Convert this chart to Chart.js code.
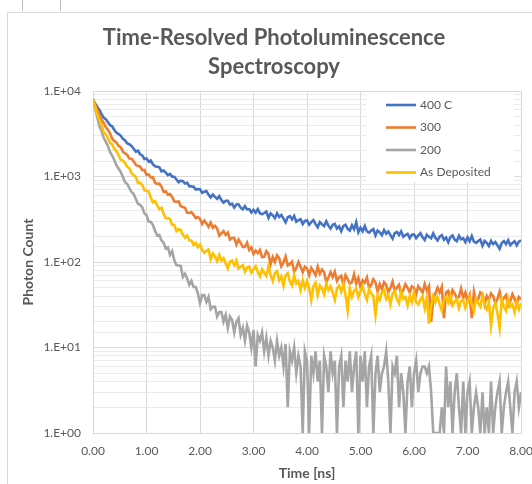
<!DOCTYPE html>
<html>
<head>
<meta charset="utf-8">
<script src="https://cdn.jsdelivr.net/npm/chart.js@4.4.1/dist/chart.umd.min.js"></script>
<style>
  html, body { margin: 0; padding: 0; background: #fff; }
  #wrap { width: 532px; height: 484px; }
</style>
</head>
<body>
<div id="wrap"><canvas id="trplChart" width="532" height="484"></canvas></div>
<script>
// ===== Data: photon counts, one sample every 0.04 ns =====
const T_STEP = 0.04;
const seriesNames = ['400 C', '300', '200', 'As Deposited'];
const seriesColors = ['#4472C4', '#ED7D31', '#A5A5A5', '#FFC000'];
const yTickValues = [1, 10, 100, 1000, 10000];
const yTickLabels = ['1.E+00', '1.E+01', '1.E+02', '1.E+03', '1.E+04'];
const chartTitle = ['Time-Resolved Photoluminescence', 'Spectroscopy'];

const counts400C = [
  8000,7092,6520,6006,5368,4846,4674,4310,3985,3842,
  3490,3246,3141,2993,2752,2639,2434,2385,2282,2112,
  1955,2001,1819,1765,1603,1623,1495,1540,1386,1315,
  1302,1283,1150,1176,1112,1039,1073,996,993,921,
  859,893,884,828,844,768,767,761,703,714,
  711,644,663,675,613,570,614,578,548,589,
  530,495,520,521,469,480,433,470,473,432,
  413,451,412,416,379,408,378,415,372,361,
  374,389,328,370,352,325,371,337,355,321,
  291,334,344,315,345,296,309,317,278,302,
  307,273,293,309,277,255,293,276,263,299,
  266,246,272,279,246,261,229,264,273,244,
  233,269,242,292,223,252,229,264,228,220,
  233,243,205,233,222,206,236,214,227,206,
  188,218,225,207,228,197,207,214,190,208,
  210,190,205,217,195,181,208,197,189,216,
  192,179,198,206,182,193,170,196,204,183,
  175,203,184,190,171,194,175,201,173,167,
  176,183,155,176,167,154,177,162,171,157,
  143,167,175,162,180,157,167,175,157,173,179
];
const counts300 = [
  8000,6783,6072,5250,4566,4246,3756,3512,3168,2767,
  2589,2486,2277,2186,1954,1862,1784,1623,1613,1503,
  1372,1325,1310,1188,1194,1047,1057,976,982,845,
  819,825,763,660,672,611,622,576,511,505,
  514,449,439,431,377,374,384,356,326,336,
  320,279,306,283,258,289,251,264,247,203,
  216,230,208,221,183,191,192,160,183,167,
  150,150,168,138,148,124,136,127,138,114,
  115,134,124,94,114,100,120,111,89,99,
  116,91,95,101,77,85,100,88,76,88,
  84,70,85,78,70,88,73,82,76,58,
  66,76,67,77,60,66,69,54,70,63,
  56,58,72,56,65,51,61,57,66,50,
  54,63,58,45,55,48,58,54,44,50,
  59,46,50,54,42,47,55,50,44,52,
  50,42,52,48,44,55,46,52,20,37,
  43,50,44,51,22,44,46,36,47,43,
  38,39,49,38,44,35,41,22,45,35,
  37,44,42,32,40,36,43,40,33,37,
  45,35,38,41,31,35,42,37,32,39,37
];
const counts200 = [
  8000,6250,4947,3884,3392,2834,2538,2264,1925,1745,
  1550,1345,1234,1126,978,858,817,731,658,625,
  547,479,466,437,371,353,297,294,272,231,
  204,207,179,168,144,148,121,134,104,92,
  91,90,67,73,64,54,60,51,51,43,
  33,41,41,34,39,28,30,30,23,26,
  26,20,24,17,23,21,15,20,22,14,
  17,12,18,15,10,16,6,14,12,15,
  9,13,8,12,10,7,12,8,10,6,
  11,2,9,7,10,5,8,6,1,9,
  7,1,8,5,9,4,7,1,8,6,
  3,9,5,7,1,6,8,2,7,4,
  9,3,6,9,1,8,4,9,2,6,
  8,1,5,8,3,5,6,9,4,1,
  6,5,8,2,5,3,1,4,6,2,
  5,7,3,5,6,6,5,6,3,1,
  1,1,1,2,1,6,2,4,1,3,
  5,2,1,4,1,3,4,1,2,3,
  2,1,3,1,2,1,4,1,2,3,
  4,1,2,3,4,2,1,3,4,2,3
];
const countsAsDep = [
  8000,6534,5341,4623,4049,3262,3119,2793,2476,2377,
  2089,1975,1759,1573,1535,1437,1294,1248,1097,1037,
  991,842,843,801,689,683,664,567,498,516,
  459,414,430,366,324,327,317,272,269,230,
  242,236,208,192,204,180,179,158,167,149,
  160,138,128,135,140,108,126,116,102,121,
  104,111,96,84,101,104,92,104,84,88,
  92,77,86,88,75,82,89,76,68,82,
  75,69,89,70,60,74,78,61,68,53,
  70,74,59,53,70,56,60,47,61,50,
  60,50,36,52,57,41,53,49,42,56,
  47,52,44,36,49,53,45,55,41,27,
  49,39,46,49,39,46,52,42,36,48,
  43,40,24,41,36,44,47,37,41,32,
  43,46,37,33,45,37,39,31,40,34,
  44,34,32,36,40,29,38,19,31,40,
  34,39,32,27,36,39,34,41,31,34,
  37,29,35,36,29,34,39,32,27,37,
  33,30,40,32,28,34,18,29,33,25,
  17,37,30,27,37,30,32,26,34,28,33
];

const FONT = 'Lato, "Open Sans", sans-serif';
const TEXT = '#595959';

function toPoints(arr) {
  return arr.map((v, i) => ({ x: i * T_STEP, y: v }));
}

const allCounts = [counts400C, counts300, counts200, countsAsDep];
// Excel paints the last series on top -> give it the lowest order
const datasets = allCounts.map((arr, i) => ({
  label: seriesNames[i],
  data: toPoints(arr),
  borderColor: seriesColors[i],
  backgroundColor: seriesColors[i],
  borderWidth: 2.6,
  pointRadius: 0,
  tension: 0,
  order: allCounts.length - i
}));

// ===== Sheet frame, title and legend box (Excel look) =====
const excelDecor = {
  id: 'excelDecor',
  beforeDraw(chart) {
    const c = chart.ctx;
    c.save();
    c.fillStyle = '#fff';
    c.fillRect(0, 0, chart.width, chart.height);
    c.strokeStyle = '#d9d9d9';
    c.lineWidth = 1;
    c.beginPath();
    c.moveTo(7.5, chart.height); c.lineTo(7.5, 12.5); c.lineTo(chart.width, 12.5);
    c.stroke();
    c.strokeStyle = '#bfbfbf';
    c.beginPath();
    c.moveTo(22.5, 0); c.lineTo(22.5, 11);
    c.moveTo(60.5, 0); c.lineTo(60.5, 11);
    c.stroke();
    c.fillStyle = TEXT;
    c.font = 'bold 22px ' + FONT;
    c.textAlign = 'center';
    c.textBaseline = 'middle';
    chartTitle.forEach((t, i) => c.fillText(t, 274, 38 + i * 29));
    c.restore();
  },
  afterDatasetsDraw(chart) {
    const c = chart.ctx;
    c.save();
    c.fillStyle = '#fff';
    c.fillRect(366, 92, 148, 90);
    c.font = '12px ' + FONT;
    c.textAlign = 'left';
    c.textBaseline = 'middle';
    seriesNames.forEach((name, i) => {
      const y = 105 + i * 22.5;
      c.strokeStyle = seriesColors[i];
      c.lineWidth = 2.6;
      c.beginPath();
      c.moveTo(386, y); c.lineTo(416, y);
      c.stroke();
      c.fillStyle = TEXT;
      c.fillText(name, 420, y);
    });
    c.restore();
  }
};

const ctx = document.getElementById('trplChart').getContext('2d');
new Chart(ctx, {
  type: 'line',
  data: { datasets },
  options: {
    responsive: false,
    animation: false,
    layout: { padding: { left: 16, right: 11, top: 91, bottom: 0 } },
    plugins: {
      legend: { display: false },
      title: { display: false },
      tooltip: { enabled: false }
    },
    scales: {
      x: {
        type: 'linear',
        min: 0,
        max: 8,
        ticks: {
          stepSize: 1,
          maxRotation: 0,
          padding: 11,
          color: TEXT,
          font: { family: FONT, size: 12 },
          callback: v => Number(v).toFixed(2)
        },
        grid: { color: '#d9d9d9', drawTicks: false },
        border: { color: '#d9d9d9' },
        title: {
          display: true,
          text: 'Time [ns]',
          color: TEXT,
          font: { family: FONT, size: 14, weight: 'bold' },
          padding: { top: 4, bottom: 2 }
        },
        afterFit: s => { s.height = 51; s.paddingLeft = 0; s.paddingRight = 0; }
      },
      y: {
        type: 'logarithmic',
        min: 1,
        max: 10000,
        ticks: {
          autoSkip: false,
          padding: 12,
          color: TEXT,
          font: { family: FONT, size: 12 },
          callback: v => {
            const k = yTickValues.indexOf(Number(v));
            return k >= 0 ? yTickLabels[k] : '';
          }
        },
        grid: {
          drawTicks: false,
          color: c => (c.tick && yTickValues.includes(c.tick.value)) ? '#d9d9d9' : '#ebebeb'
        },
        border: { color: '#d9d9d9' },
        title: {
          display: true,
          text: 'Photon Count',
          color: TEXT,
          font: { family: FONT, size: 14, weight: 'bold' },
          padding: { top: 4, bottom: 4 }
        },
        afterFit: s => { s.width = 77; }
      }
    }
  },
  plugins: [excelDecor]
});
</script>
</body>
</html>
